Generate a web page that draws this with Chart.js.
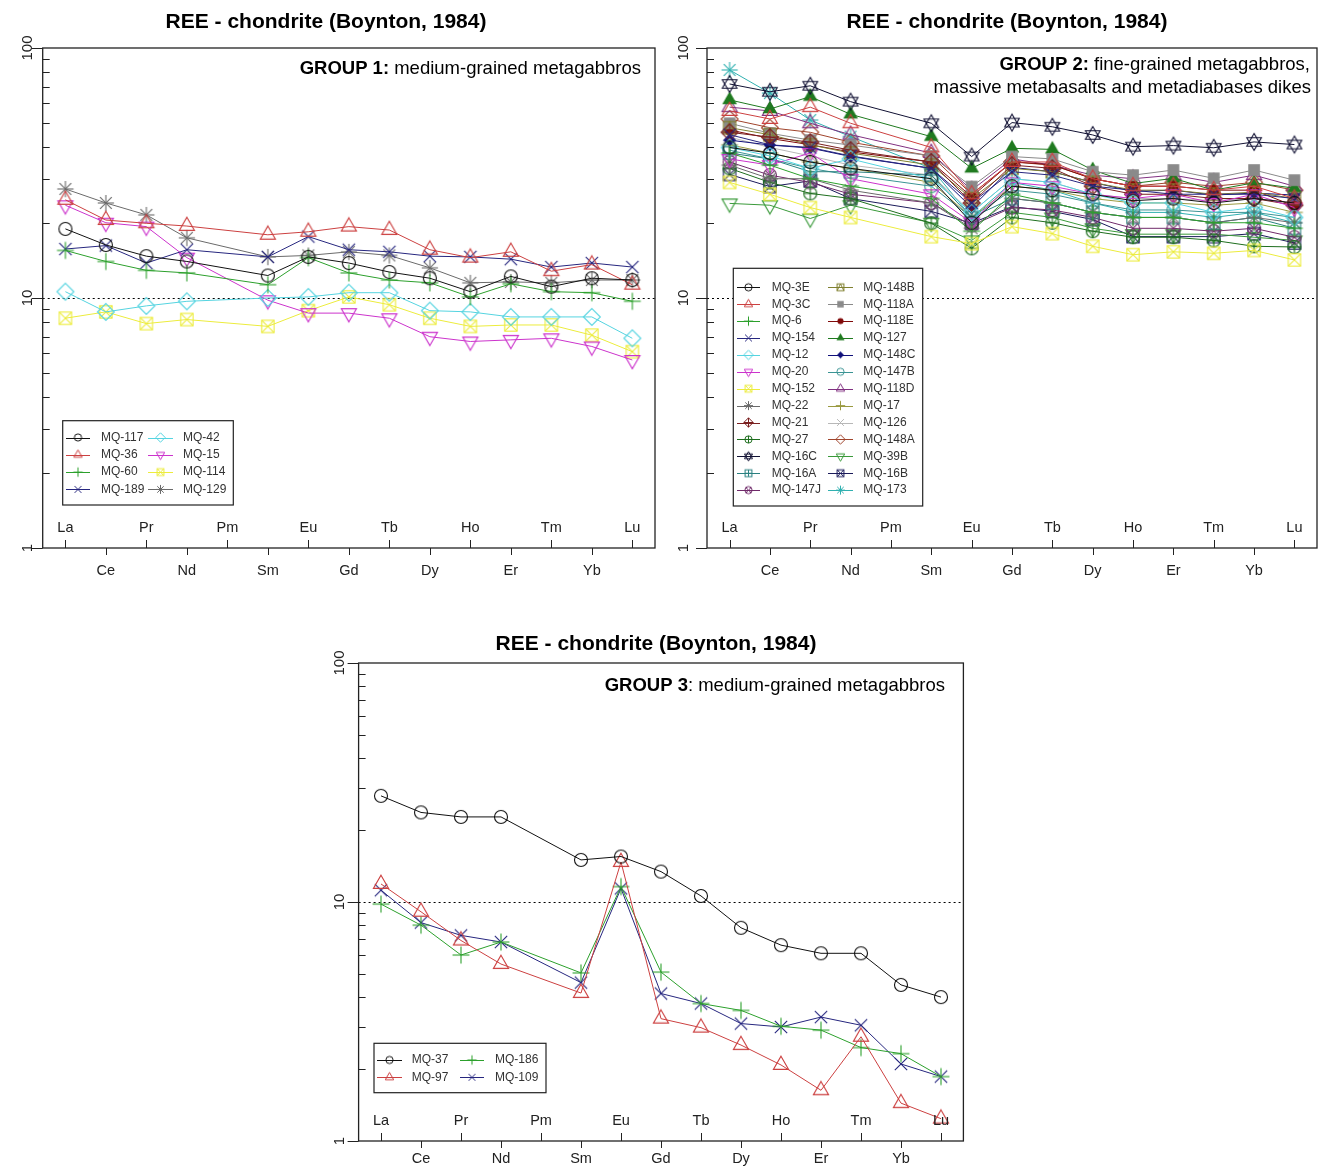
<!DOCTYPE html>
<html>
<head>
<meta charset="utf-8">
<title>REE - chondrite (Boynton, 1984)</title>
<script src="https://cdn.jsdelivr.net/npm/chart.js@4.4.1/dist/chart.umd.min.js"></script>
<style>
body { margin: 0; background: #fff; }
#wrap { position: relative; width: 1322px; height: 1167px; }
#wrap canvas { position: absolute; left: 0; top: 0; }
</style>
</head>
<body>
<div id="wrap">
<canvas id="g1" width="1322" height="1167"></canvas>
<canvas id="g2" width="1322" height="1167"></canvas>
<canvas id="g3" width="1322" height="1167"></canvas>
</div>
<script>
// chondrite-normalised REE, Pm not analysed
var elements = ['La', 'Ce', 'Pr', 'Nd', 'Pm', 'Sm', 'Eu', 'Gd', 'Tb', 'Dy', 'Ho', 'Er', 'Tm', 'Yb', 'Lu'];
var yTicks = [1, 10, 100];

// group 1
var mq117 = [18.9, 16.3, 14.7, 14.0, null, 12.3, 14.6, 13.8, 12.7, 12.0, 10.6, 12.2, 11.1, 12.0, 11.8];
var mq36 = [24.7, 20.5, 19.9, 19.4, null, 17.9, 18.4, 19.3, 18.7, 15.6, 14.5, 15.3, 12.8, 13.6, 11.3];
var mq60 = [15.5, 14.0, 12.9, 12.6, null, 11.3, 14.5, 12.6, 11.8, 11.5, 10.1, 11.4, 10.6, 10.5, 9.7];
var mq189 = [15.7, 16.2, 13.8, 15.6, null, 14.6, 17.6, 15.6, 15.3, 14.7, 14.6, 14.3, 13.3, 13.8, 13.3];
var mq42 = [10.6, 8.8, 9.3, 9.7, null, 10.0, 10.1, 10.5, 10.5, 8.9, 8.8, 8.4, 8.4, 8.4, 6.9];
var mq15 = [23.5, 20.0, 19.3, 14.5, null, 9.8, 8.7, 8.7, 8.3, 7.0, 6.7, 6.8, 6.9, 6.4, 5.65];
var mq114 = [8.3, 8.8, 7.9, 8.2, null, 7.7, 8.9, 10.1, 9.4, 8.3, 7.7, 7.8, 7.8, 7.1, 6.1];
var mq129 = [27.3, 24.0, 21.5, 17.4, null, 14.6, 14.8, 15.3, 14.8, 13.2, 11.5, 11.6, 11.5, 11.8, 11.8];

// group 2
var mq3E = [40, 38, 35, 33, null, 30, 20, 28, 27, 26, 24.5, 25, 24, 25, 24];
var mq3C = [56, 52, 58, 50, null, 40, 26, 35, 35, 30, 28, 28, 27, 28, 25];
var mq6 = [38, 34, 30, 28, null, 25, 18.5, 26, 24, 22, 21, 21, 20, 20, 19];
var mq154 = [45, 41, 40, 37, null, 33, 24, 32, 31, 28, 27, 26, 26, 26, 25];
var mq12 = [40, 37, 33, 36, null, 30, 22, 30, 29, 26, 24, 24, 22, 23, 21];
var mq20 = [36, 34, 38, 30, null, 26, 20, 29, 28, 26, 25, 26, 24, 26, 23];
var mq152 = [29, 26, 23, 21, null, 17.6, 16.5, 19.3, 18.1, 16.1, 14.9, 15.3, 15.1, 15.5, 14.2];
var mq22 = [34, 30, 30, 27, null, 24, 19, 25, 24, 22, 21, 21, 20, 21, 20];
var mq21 = [46, 44, 42, 39, null, 35, 24, 34, 33, 28, 26, 26, 25, 25, 23.5];
var mq27 = [33, 29, 26.2, 25, null, 19.9, 15.8, 21, 20, 18.5, 17.5, 17.5, 17, 16.1, 16];
var mq16C = [71.8, 66.8, 70.6, 61, null, 50, 36.8, 50.3, 48.4, 44.9, 40.3, 40.7, 39.9, 42.1, 41.1];
var mq16A = [38, 36, 32, 32, null, 31, 21, 25, 24, 22, 21, 21, 20, 21, 19];
var mq147J = [35, 31, 29, 26, null, 24, 19.5, 23, 22.5, 21, 19, 19, 18.5, 19, 17.5];
var mq148B = [48, 45, 41, 38, null, 34, 25, 33, 32, 29, 27, 27, 26, 26.5, 25];
var mq118A = [50, 45.6, 42.8, 40.9, null, 37, 27.9, 36.8, 36, 32, 31, 32.5, 30.1, 32.5, 29.6];
var mq118E = [47, 43.5, 41, 38.4, null, 35, 25.4, 35.1, 34.1, 30, 28, 28, 27, 27, 23.3];
var mq127 = [62, 57, 63.9, 54.3, null, 44.2, 33, 39.7, 39.3, 32.5, 28.7, 30.1, 27, 28.9, 27.5];
var mq148C = [42.8, 40.9, 39.8, 36.8, null, 33, 23, 33.3, 32, 29, 26.7, 27, 25.8, 26.3, 25.8];
var mq147B = [39, 36, 33, 31, null, 28, 21, 27, 26, 24, 22.5, 22.5, 22, 22, 21];
var mq118D = [58, 56, 50, 45, null, 38, 27, 36, 34, 31, 30, 31, 29, 31, 28];
var mq17 = [41, 38, 35, 33, null, 29, 21, 28, 27, 25, 24, 24, 23.5, 24, 22];
var mq126 = [44, 40, 37, 34, null, 31, 22, 30, 29, 26, 25, 25, 24.5, 25, 24];
var mq148A = [52, 48, 46, 42, null, 37, 26, 35, 34, 30, 28, 29, 28, 29, 27];
var mq39B = [23.9, 23.5, 20.8, 23.5, null, 20, 17, 22, 21, 19, 18, 18, 18, 17.5, 17];
var mq16B = [31.2, 27.9, 29.4, 25, null, 22.2, 19.9, 23.2, 22.2, 20.6, 17.6, 17.6, 17.6, 18.1, 16.6];
var mq173 = [81.7, 66, 51.5, 44.2, null, 33, 21, 29, 27, 24, 22, 22, 21, 22, 20];

// group 3
var mq37 = [27.8, 23.7, 22.7, 22.7, null, 15.0, 15.5, 13.4, 10.6, 7.8, 6.6, 6.1, 6.1, 4.5, 4.0];
var mq97 = [11.9, 9.1, 6.9, 5.5, null, 4.16, 14.7, 3.25, 2.98, 2.52, 2.08, 1.63, 2.73, 1.44, 1.24];
var mq186 = [9.8, 8.0, 6.0, 6.8, null, 5.05, 11.6, 5.09, 3.76, 3.52, 3.02, 2.91, 2.46, 2.32, 1.86];
var mq109 = [11.2, 8.2, 7.25, 6.8, null, 4.6, 11.4, 4.14, 3.76, 3.1, 3.0, 3.3, 3.05, 2.1, 1.86];

var group1 = [
	{ name: 'MQ-117', data: mq117, color: '#111111', pch: 1 },
	{ name: 'MQ-36', data: mq36, color: '#cc4040', pch: 2 },
	{ name: 'MQ-60', data: mq60, color: '#2ca02c', pch: 3 },
	{ name: 'MQ-189', data: mq189, color: '#26267f', pch: 4 },
	{ name: 'MQ-42', data: mq42, color: '#55d4e0', pch: 5 },
	{ name: 'MQ-15', data: mq15, color: '#cc33cc', pch: 6 },
	{ name: 'MQ-114', data: mq114, color: '#ecec3c', pch: 7 },
	{ name: 'MQ-129', data: mq129, color: '#6a6a6a', pch: 8 }
];

var group2 = [
	{ name: 'MQ-3E', data: mq3E, color: '#111111', pch: 1 },
	{ name: 'MQ-3C', data: mq3C, color: '#cc4040', pch: 2 },
	{ name: 'MQ-6', data: mq6, color: '#2ca02c', pch: 3 },
	{ name: 'MQ-154', data: mq154, color: '#26267f', pch: 4 },
	{ name: 'MQ-12', data: mq12, color: '#55d4e0', pch: 5 },
	{ name: 'MQ-20', data: mq20, color: '#cc33cc', pch: 6 },
	{ name: 'MQ-152', data: mq152, color: '#ecec3c', pch: 7 },
	{ name: 'MQ-22', data: mq22, color: '#6a6a6a', pch: 8 },
	{ name: 'MQ-21', data: mq21, color: '#7a1f1f', pch: 9 },
	{ name: 'MQ-27', data: mq27, color: '#1e6e1e', pch: 10 },
	{ name: 'MQ-16C', data: mq16C, color: '#111133', pch: 11 },
	{ name: 'MQ-16A', data: mq16A, color: '#2a8080', pch: 12 },
	{ name: 'MQ-147J', data: mq147J, color: '#702a6a', pch: 13 },
	{ name: 'MQ-148B', data: mq148B, color: '#808030', pch: 14 },
	{ name: 'MQ-118A', data: mq118A, color: '#8a8a8a', pch: 15 },
	{ name: 'MQ-118E', data: mq118E, color: '#800a0a', pch: 16 },
	{ name: 'MQ-127', data: mq127, color: '#1f7a1f', pch: 17 },
	{ name: 'MQ-148C', data: mq148C, color: '#10107a', pch: 18 },
	{ name: 'MQ-147B', data: mq147B, color: '#3a9494', pch: 1 },
	{ name: 'MQ-118D', data: mq118D, color: '#803080', pch: 2 },
	{ name: 'MQ-17', data: mq17, color: '#9a9a40', pch: 3 },
	{ name: 'MQ-126', data: mq126, color: '#b8b8b8', pch: 4 },
	{ name: 'MQ-148A', data: mq148A, color: '#a0442c', pch: 5 },
	{ name: 'MQ-39B', data: mq39B, color: '#3a9a3a', pch: 6 },
	{ name: 'MQ-16B', data: mq16B, color: '#1a1a5a', pch: 7 },
	{ name: 'MQ-173', data: mq173, color: '#30b0b0', pch: 8 }
];

var group3 = [
	{ name: 'MQ-37', data: mq37, color: '#111111', pch: 1 },
	{ name: 'MQ-97', data: mq97, color: '#cc4040', pch: 2 },
	{ name: 'MQ-186', data: mq186, color: '#2ca02c', pch: 3 },
	{ name: 'MQ-109', data: mq109, color: '#26267f', pch: 4 }
];

var FONT = '"Liberation Sans", Arial, sans-serif';

// R-like plotting symbols drawn into a small canvas, used as pointStyle
function pchCanvas(pch, color, r, lw) {
	var size = Math.ceil(r * 3 + 4);
	var cv = document.createElement('canvas');
	cv.width = size;
	cv.height = size;
	var ctx = cv.getContext('2d');
	ctx.translate(size / 2, size / 2);
	ctx.strokeStyle = color;
	ctx.fillStyle = color;
	ctx.lineWidth = lw;
	function seg(x1, y1, x2, y2) {
		ctx.beginPath();
		ctx.moveTo(x1, y1);
		ctx.lineTo(x2, y2);
		ctx.stroke();
	}
	function circle(rr, fill) {
		ctx.beginPath();
		ctx.arc(0, 0, rr, 0, Math.PI * 2);
		if (fill) ctx.fill(); else ctx.stroke();
	}
	function tri(R, down, fill) {
		var k = down ? -1 : 1;
		ctx.beginPath();
		ctx.moveTo(0, -R * k);
		ctx.lineTo(0.866 * R, 0.5 * R * k);
		ctx.lineTo(-0.866 * R, 0.5 * R * k);
		ctx.closePath();
		if (fill) ctx.fill(); else ctx.stroke();
	}
	function square(h, fill) {
		if (fill) ctx.fillRect(-h, -h, 2 * h, 2 * h);
		else ctx.strokeRect(-h, -h, 2 * h, 2 * h);
	}
	function diamond(h, fill) {
		ctx.beginPath();
		ctx.moveTo(0, -h);
		ctx.lineTo(h, 0);
		ctx.lineTo(0, h);
		ctx.lineTo(-h, 0);
		ctx.closePath();
		if (fill) ctx.fill(); else ctx.stroke();
	}
	function plus(a) { seg(-a, 0, a, 0); seg(0, -a, 0, a); }
	function cross(a) { seg(-a, -a, a, a); seg(-a, a, a, -a); }

	switch (pch) {
	case 1: circle(r); break;
	case 2: tri(r * 1.35, false); break;
	case 3: plus(r * 1.3); break;
	case 4: cross(r * 0.95); break;
	case 5: diamond(r * 1.3); break;
	case 6: tri(r * 1.35, true); break;
	case 7: square(r * 0.95); cross(r * 0.95); break;
	case 8: plus(r * 1.25); cross(r * 0.9); break;
	case 9: diamond(r * 1.3); plus(r * 1.3); break;
	case 10: circle(r); plus(r); break;
	case 11: tri(r * 1.3, false); tri(r * 1.3, true); break;
	case 12: square(r * 0.95); plus(r * 0.95); break;
	case 13: circle(r); cross(r * 0.72); break;
	case 14:
		square(r * 0.95);
		ctx.beginPath();
		ctx.moveTo(-r * 0.95, r * 0.95);
		ctx.lineTo(0, -r * 0.95);
		ctx.lineTo(r * 0.95, r * 0.95);
		ctx.stroke();
		break;
	case 15: square(r * 0.9, true); break;
	case 16: circle(r * 0.85, true); break;
	case 17: tri(r * 1.3, false, true); break;
	case 18: diamond(r * 0.95, true); break;
	}
	return cv;
}

function buildDatasets(group) {
	return group.map(function(s) {
		return {
			label: s.name,
			data: s.data.map(function(v, i) {
				return { x: i + 1, y: v };
			}),
			borderColor: s.color,
			backgroundColor: s.color,
			borderWidth: 1,
			pointStyle: pchCanvas(s.pch, s.color, 6.5, 1.1),
			legendMark: pchCanvas(s.pch, s.color, 3.6, 1),
			spanGaps: true,
			tension: 0,
			fill: false
		};
	});
}

function drawRich(ctx, parts, right, y, size) {
	var total = 0;
	parts.forEach(function(p) {
		ctx.font = (p.bold ? 'bold ' : '') + size + 'px ' + FONT;
		p.w = ctx.measureText(p.text).width;
		total += p.w;
	});
	var x = right - total;
	ctx.textAlign = 'left';
	ctx.textBaseline = 'middle';
	parts.forEach(function(p) {
		ctx.font = (p.bold ? 'bold ' : '') + size + 'px ' + FONT;
		ctx.fillText(p.text, x, y);
		x += p.w;
	});
}

var reePanel = {
	id: 'reePanel',
	beforeDatasetsDraw: function(chart, args, opts) {
		var ctx = chart.ctx, a = chart.chartArea;
		var y10 = Math.round(chart.scales.y.getPixelForValue(10)) + 0.5;
		ctx.save();
		ctx.strokeStyle = '#000';
		ctx.lineWidth = 1.2;
		ctx.setLineDash([2, 3]);
		ctx.beginPath();
		ctx.moveTo(a.left, y10);
		ctx.lineTo(a.right, y10);
		ctx.stroke();
		ctx.restore();
	},
	afterDatasetsDraw: function(chart, args, opts) {
		var ctx = chart.ctx, a = chart.chartArea;
		var xs = chart.scales.x, ys = chart.scales.y;
		ctx.save();
		ctx.strokeStyle = '#222';
		ctx.fillStyle = '#222';
		ctx.lineWidth = 1.3;
		ctx.strokeRect(a.left, a.top, a.right - a.left, a.bottom - a.top);

		// y axis: minor ticks inside, decades outside
		ctx.lineWidth = 1;
		ctx.beginPath();
		[1, 10].forEach(function(d) {
			for (var m = 2; m <= 9; m++) {
				var y = Math.round(ys.getPixelForValue(d * m)) + 0.5;
				ctx.moveTo(a.left, y);
				ctx.lineTo(a.left + 7, y);
			}
		});
		yTicks.forEach(function(v) {
			var y = Math.round(ys.getPixelForValue(v)) + 0.5;
			ctx.moveTo(a.left - 11, y);
			ctx.lineTo(a.left, y);
		});
		ctx.stroke();
		ctx.font = '15px ' + FONT;
		ctx.textAlign = 'center';
		ctx.textBaseline = 'middle';
		yTicks.forEach(function(v) {
			var y = ys.getPixelForValue(v);
			ctx.save();
			ctx.translate(a.left - opts.yLabelGap, y);
			ctx.rotate(-Math.PI / 2);
			ctx.fillText(String(v), 0, 0);
			ctx.restore();
		});

		// x axis: labels alternate inside / outside
		ctx.font = '14.5px ' + FONT;
		ctx.beginPath();
		elements.forEach(function(el, i) {
			var x = Math.round(xs.getPixelForValue(i + 1)) + 0.5;
			if (i % 2 === 0) {
				ctx.moveTo(x, a.bottom);
				ctx.lineTo(x, a.bottom - 8);
			} else {
				ctx.moveTo(x, a.bottom);
				ctx.lineTo(x, a.bottom + 7);
			}
		});
		ctx.stroke();
		elements.forEach(function(el, i) {
			var x = xs.getPixelForValue(i + 1);
			ctx.fillText(el, x, i % 2 === 0 ? a.bottom - 20 : a.bottom + opts.outerGap);
		});

		// title and group caption
		ctx.fillStyle = '#000';
		ctx.font = 'bold 21px ' + FONT;
		ctx.fillText('REE - chondrite (Boynton, 1984)', opts.titleX, opts.titleY);
		opts.caption.forEach(function(line) {
			drawRich(ctx, line.parts, line.right, line.y, 18.5);
		});

		// legend in columns, filled down first
		var lg = opts.legend;
		ctx.fillStyle = '#fff';
		ctx.fillRect(lg.x, lg.y, lg.w, lg.h);
		ctx.strokeStyle = '#222';
		ctx.lineWidth = 1.2;
		ctx.strokeRect(lg.x, lg.y, lg.w, lg.h);
		ctx.font = '12px ' + FONT;
		ctx.textAlign = 'left';
		ctx.textBaseline = 'middle';
		chart.data.datasets.forEach(function(ds, i) {
			var col = Math.floor(i / lg.rows), row = i % lg.rows;
			var c = lg.cols[col];
			var y = lg.row0 + row * lg.step;
			ctx.strokeStyle = ds.borderColor;
			ctx.lineWidth = 1;
			ctx.beginPath();
			ctx.moveTo(c.line0, Math.round(y) + 0.5);
			ctx.lineTo(c.line1, Math.round(y) + 0.5);
			ctx.stroke();
			var mk = ds.legendMark;
			ctx.drawImage(mk, (c.line0 + c.line1) / 2 - mk.width / 2, y - mk.height / 2);
			ctx.fillStyle = '#333';
			ctx.fillText(ds.label, c.text, y);
		});
		ctx.restore();
	}
};

function makePanel(id, group, padding, panelOpts) {
	return new Chart(document.getElementById(id), {
		type: 'line',
		data: { datasets: buildDatasets(group) },
		options: {
			responsive: false,
			animation: false,
			events: [],
			layout: { padding: padding },
			scales: {
				x: { type: 'linear', min: 0.44, max: 15.56, display: false },
				y: { type: 'logarithmic', min: 1, max: 100, display: false }
			},
			plugins: {
				legend: { display: false },
				tooltip: { enabled: false },
				reePanel: panelOpts
			}
		},
		plugins: [ reePanel ]
	});
}

makePanel('g1', group1, { left: 42.7, top: 48, right: 667, bottom: 619 }, {
	yLabelGap: 15, outerGap: 23,
	titleX: 326, titleY: 22,
	caption: [ { right: 641, y: 69, parts: [ { text: 'GROUP 1:', bold: true }, { text: ' medium-grained metagabbros' } ] } ],
	legend: { x: 62.7, y: 420.7, w: 170.6, h: 84.3, rows: 4, row0: 437.5, step: 17.3,
		cols: [ { line0: 66, line1: 90, text: 101 }, { line0: 148, line1: 173, text: 183 } ] }
});

makePanel('g2', group2, { left: 707, top: 48, right: 2, bottom: 619 }, {
	yLabelGap: 23, outerGap: 23,
	titleX: 1007, titleY: 22,
	caption: [
		{ right: 1310, y: 65, parts: [ { text: 'GROUP 2:', bold: true }, { text: ' fine-grained metagabbros,' } ] },
		{ right: 1311, y: 88, parts: [ { text: 'massive metabasalts and metadiabases dikes' } ] }
	],
	legend: { x: 733.3, y: 268.3, w: 189.4, h: 237.7, rows: 13, row0: 287.3, step: 16.9,
		cols: [ { line0: 737, line1: 760, text: 771.7 }, { line0: 828, line1: 853, text: 863.3 } ] }
});

makePanel('g3', group3, { left: 358.6, top: 663, right: 358.6, bottom: 26 }, {
	yLabelGap: 19, outerGap: 18,
	titleX: 656, titleY: 644,
	caption: [ { right: 945, y: 686, parts: [ { text: 'GROUP 3', bold: true }, { text: ': medium-grained metagabbros' } ] } ],
	legend: { x: 374, y: 1043.3, w: 172, h: 49.4, rows: 2, row0: 1060, step: 17.3,
		cols: [ { line0: 377, line1: 402, text: 411.7 }, { line0: 460, line1: 484, text: 495 } ] }
});
</script>
</body>
</html>
